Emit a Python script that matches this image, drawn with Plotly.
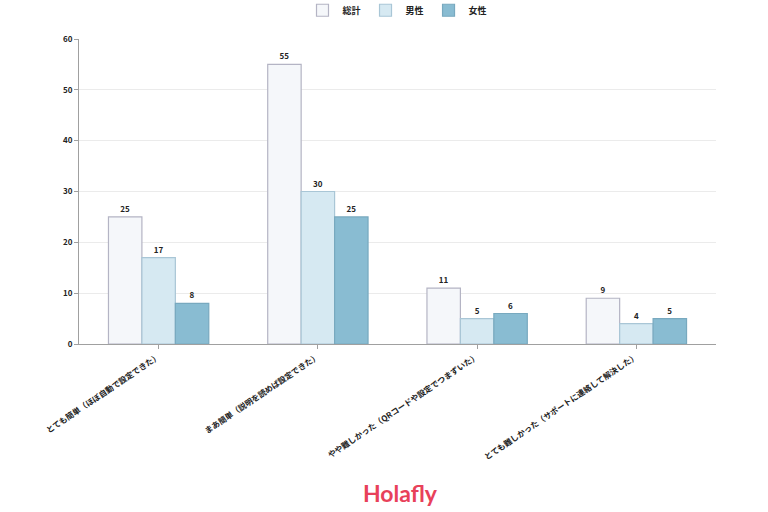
import plotly.graph_objects as go

categories = [
    "とても簡単（ほぼ自動で設定できた）",
    "まあ簡単（説明を読めば設定できた）",
    "やや難しかった（QRコードや設定でつまずいた）",
    "とても難しかった（サポートに連絡して解決した）",
]
series_names = ["総計", "男性", "女性"]
total = [25, 55, 11, 9]
male = [17, 30, 5, 4]
female = [8, 25, 6, 5]

fills = ["#f5f7fa", "#d6e9f2", "#89bcd2"]
borders = ["#b4b4c4", "#a9c6d6", "#78a9bf"]

FONT = "Noto Sans CJK JP"
TXT = "#222222"
fig = go.Figure()
for name, vals, fc, bc in zip(series_names, [total, male, female], fills, borders):
    fig.add_trace(go.Bar(
        x=categories, y=vals, name=name,
        marker=dict(color=fc, line=dict(color=bc, width=1.2)),
        text=vals, textposition="outside",
        textfont=dict(size=8, color=TXT, family=FONT, weight="bold"),
        cliponaxis=False,
    ))

fig.update_layout(
    width=768, height=512,
    margin=dict(l=79, r=52, t=39, b=168, autoexpand=False),
    paper_bgcolor="white", plot_bgcolor="white",
    barmode="group", bargap=0.37, bargroupgap=0,
    font=dict(family=FONT, size=8, color=TXT),
    legend=dict(orientation="h", x=0.5, xanchor="center", y=0.98, yanchor="middle",
                yref="container", font=dict(size=9, color=TXT, family=FONT, weight="bold"),
                itemwidth=30, traceorder="normal"),
    showlegend=True,
)
fig.update_xaxes(
    showline=True, linecolor="#a0a0a0", linewidth=1,
    ticks="outside", ticklen=4, tickcolor="#a0a0a0", automargin=False,
    tickangle=-34, tickfont=dict(size=8, color=TXT, family=FONT, weight="bold"),
)
fig.update_yaxes(
    range=[0, 60], dtick=10, automargin=False,
    showline=True, linecolor="#a0a0a0", linewidth=1,
    ticks="outside", ticklen=4, tickcolor="#a0a0a0",
    showgrid=True, gridcolor="#ebebeb", gridwidth=1,
    zeroline=False,
    tickfont=dict(size=8, color=TXT, family=FONT, weight="bold"),
)
fig.add_annotation(
    text="Holafly", x=0.505, y=-0.49, xref="paper", yref="paper",
    xanchor="center", yanchor="middle",
    showarrow=False, font=dict(size=23, color="#e8415a", family="Lato", weight="bold"),
)
fig.write_html("out.html")
